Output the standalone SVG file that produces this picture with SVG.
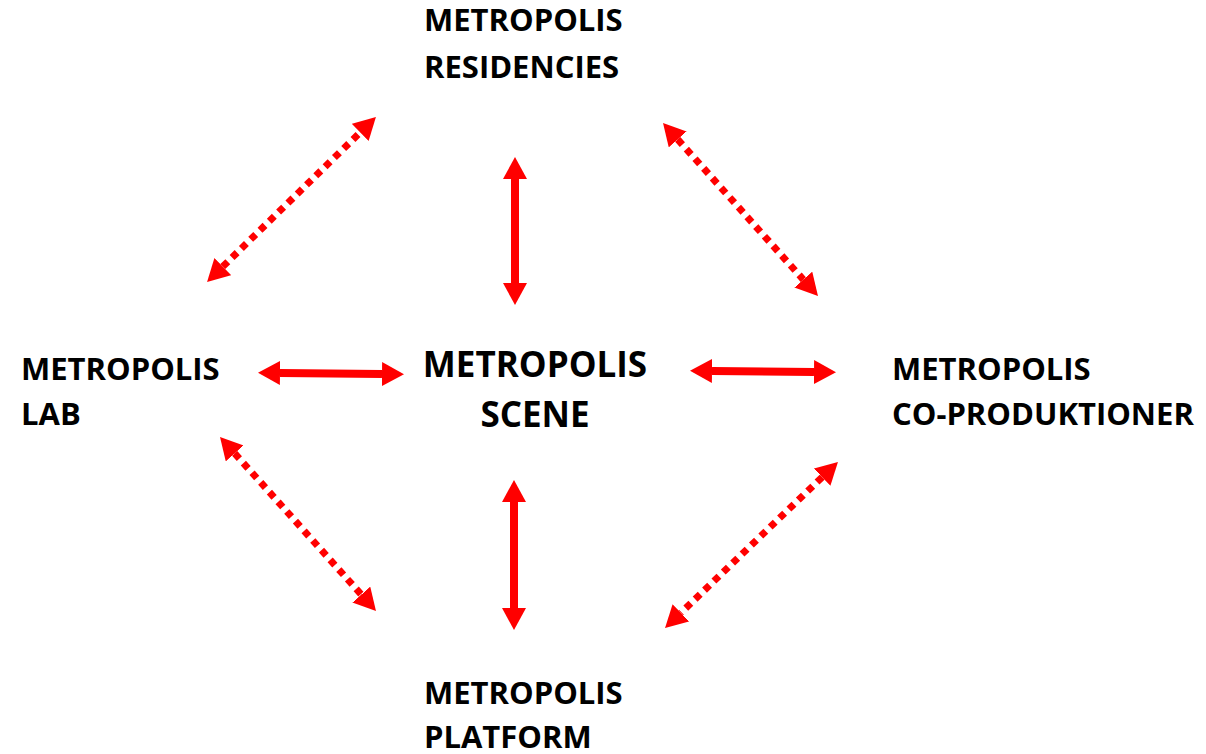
<svg xmlns="http://www.w3.org/2000/svg" width="1206" height="754" viewBox="0 0 1206 754">
<style>
.t{font-family:"Open Sans","Liberation Sans",sans-serif;font-weight:bold;font-size:31px;fill:#000}
.c{font-size:35px;text-anchor:middle}
.s{stroke:#ff0000;stroke-width:8;fill:none}
.d{stroke:#ff0000;stroke-width:7;fill:none;stroke-dasharray:7 6}
</style>
<defs>
<marker id="h" viewBox="0 -12 22 24" markerWidth="22" markerHeight="24" refX="0" refY="0" markerUnits="userSpaceOnUse" orient="auto-start-reverse">
<path d="M0,-12 L22,0 L0,12 Z" fill="#ff0000"/>
</marker>
</defs>
<rect width="1206" height="754" fill="#fff"/>
<g id="connectors">
<line class="s" x1="515" y1="179" x2="515" y2="283" marker-start="url(#h)" marker-end="url(#h)"/>
<line class="s" x1="514" y1="502" x2="514" y2="608" marker-start="url(#h)" marker-end="url(#h)"/>
<line class="s" x1="280" y1="373" x2="382" y2="374" marker-start="url(#h)" marker-end="url(#h)"/>
<line class="s" x1="712" y1="371" x2="814" y2="372" marker-start="url(#h)" marker-end="url(#h)"/>
<line class="d" x1="222.8" y1="266.6" x2="360.2" y2="132.4" marker-start="url(#h)" marker-end="url(#h)"/>
<line class="d" x1="677.7" y1="139.4" x2="803.3" y2="279.6" marker-start="url(#h)" marker-end="url(#h)"/>
<line class="d" x1="234.7" y1="453.4" x2="361.3" y2="594.6" marker-start="url(#h)" marker-end="url(#h)"/>
<line class="d" x1="822.1" y1="477.2" x2="680.9" y2="612.8" marker-start="url(#h)" marker-end="url(#h)"/>
</g>
<g id="residencies"><text class="t" x="424" y="31">METROPOLIS</text><text class="t" x="424" y="78">RESIDENCIES</text></g>
<g id="lab"><text class="t" x="21" y="380">METROPOLIS</text><text class="t" x="21" y="425">LAB</text></g>
<g id="scene"><text class="t c" x="535" y="377">METROPOLIS</text><text class="t c" x="535" y="427">SCENE</text></g>
<g id="coproduktioner"><text class="t" x="892" y="380">METROPOLIS</text><text class="t" x="892" y="425">CO-PRODUKTIONER</text></g>
<g id="platform"><text class="t" x="424" y="704">METROPOLIS</text><text class="t" x="424" y="748">PLATFORM</text></g>
</svg>
